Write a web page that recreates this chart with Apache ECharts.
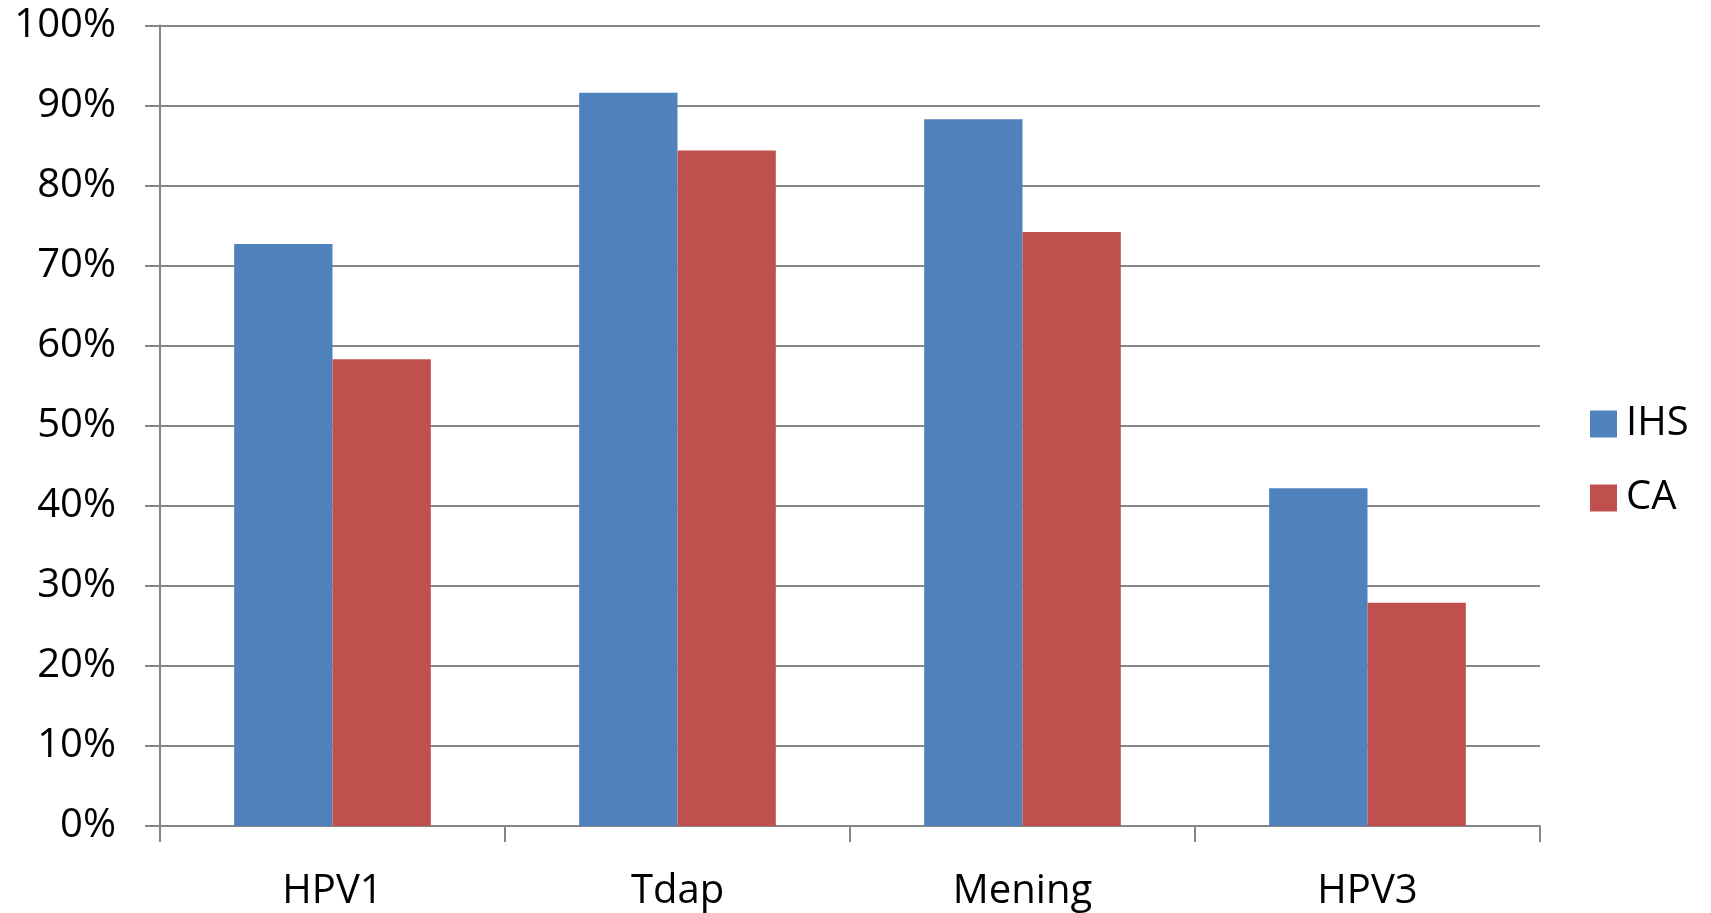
<!DOCTYPE html>
<html>
<head>
<meta charset="utf-8">
<script src="https://cdn.jsdelivr.net/npm/echarts@6/dist/echarts.min.js"></script>
<style>
html,body{margin:0;padding:0;background:#fff;}
#chart{width:1711px;height:913px;}
</style>
</head>
<body>
<div id="chart"></div>
<script>
const categories = ['HPV1', 'Tdap', 'Mening', 'HPV3'];
const ihsValues = [72.7, 91.6, 88.3, 42.2];
const caValues = [58.3, 84.4, 74.2, 27.9];
const seriesNames = ['IHS', 'CA'];

const FONT = 'Open Sans';
const chart = echarts.init(document.getElementById('chart'), null, {renderer: 'canvas'});
chart.setOption({
  animation: false,
  backgroundColor: '#ffffff',
  textStyle: {fontFamily: FONT},
  grid: {left: 160, right: 171, top: 25.5, bottom: 87, containLabel: false},
  legend: {
    orient: 'vertical',
    left: 1585,
    top: 399,
    itemWidth: 27,
    itemHeight: 27,
    itemGap: 34,
    icon: 'rect',
    textStyle: {fontFamily: FONT, fontSize: 40, color: '#000', padding: [0, 0, 0, 4]},
    data: seriesNames
  },
  xAxis: {
    type: 'category',
    data: categories,
    axisLine: {lineStyle: {color: '#868686', width: 2}},
    axisTick: {show: true, length: 16, lineStyle: {color: '#868686', width: 2}},
    axisLabel: {fontFamily: FONT, fontSize: 40, color: '#000', margin: 46}
  },
  yAxis: {
    type: 'value',
    min: 0,
    max: 100,
    interval: 10,
    axisLine: {show: true, lineStyle: {color: '#868686', width: 2}},
    axisTick: {show: true, length: 15, lineStyle: {color: '#868686', width: 2}},
    splitLine: {show: true, lineStyle: {color: '#868686', width: 2}},
    axisLabel: {fontFamily: FONT, fontSize: 40, color: '#000', margin: 44, formatter: '{value}%'}
  },
  series: [
    {name: seriesNames[0], type: 'bar', data: ihsValues, barGap: '0%', barCategoryGap: '43%',
     itemStyle: {color: '#4F81BD'}},
    {name: seriesNames[1], type: 'bar', data: caValues, barGap: '0%', barCategoryGap: '43%',
     itemStyle: {color: '#C0504D'}}
  ]
});
</script>
</body>
</html>
